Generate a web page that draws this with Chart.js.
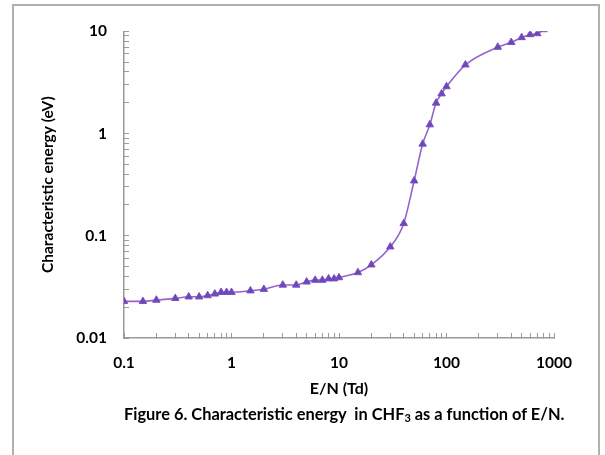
<!DOCTYPE html>
<html>
<head>
<meta charset="utf-8">
<script src="https://cdn.jsdelivr.net/npm/chart.js@4"></script>
<style>
  body { margin: 0; background: #fff; }
  #wrap { position: relative; width: 605px; height: 455px; overflow: hidden; }
  #frame { position: absolute; left: 12px; top: 4px; width: 588px; height: 480px; border: 2px solid #b0b0b0; box-sizing: border-box; }
  #chartCanvas { position: absolute; left: 0; top: 0; }
  #caption { position: absolute; left: 124px; width: 430px; top: 404px; text-align: center; white-space: nowrap;
    font-family: Lato, "Open Sans", sans-serif; font-weight: bold; font-size: 16.4px; color: #000; }
  #caption sub { font-size: 11px; vertical-align: -2px; }
</style>
</head>
<body>
<div id="wrap">
  <div id="frame"></div>
  <canvas id="chartCanvas" width="605" height="455"></canvas>
  <div id="caption">Figure 6. Characteristic energy &nbsp;in CHF<sub>3</sub> as a function of E/N.</div>
</div>
<script>
// E/N (Td)
var fieldValues = [0.1, 0.15, 0.2, 0.3, 0.4, 0.5, 0.6, 0.7, 0.8, 0.9, 1, 1.5, 2, 3, 4, 5, 6, 7, 8, 9, 10,
  15, 20, 30, 40, 50, 60, 70, 80, 90, 100, 150, 300, 400, 500, 600, 700, 800];
// characteristic energy (eV)
var energyValues = [0.0228, 0.0228, 0.0235, 0.0244, 0.0253, 0.0253, 0.026, 0.027, 0.028, 0.028, 0.028, 0.029, 0.030,
  0.033, 0.033, 0.0354, 0.0368, 0.0368, 0.038, 0.038, 0.039, 0.0437, 0.052, 0.078, 0.132, 0.345, 0.79, 1.22, 1.99,
  2.45, 2.88, 4.7, 7.0, 7.8, 8.7, 9.3, 9.5, 10.4];
var xTickLabels = ["0.1", "1", "10", "100", "1000"];
var yTickLabels = ["0.01", "0.1", "1", "10"];

function logTicks(labels) {
  var out = [];
  for (var i = 0; i < labels.length; i++) {
    var base = parseFloat(labels[i]);
    out.push({ value: base });
    if (i < labels.length - 1) {
      for (var m = 2; m <= 9; m++) out.push({ value: base * m });
    }
  }
  return out;
}
function majorLabel(labels) {
  return function (value) {
    for (var i = 0; i < labels.length; i++) {
      if (Math.abs(value / parseFloat(labels[i]) - 1) < 1e-6) return labels[i];
    }
    return "";
  };
}

var points = fieldValues.map(function (x, i) { return { x: x, y: energyValues[i] }; });
var tickFont = { family: "Lato, 'Open Sans', sans-serif", weight: "bold", size: 15.5 };
var titleFont = { family: "Lato, 'Open Sans', sans-serif", weight: "bold", size: 16 };

var ctx = document.getElementById("chartCanvas").getContext("2d");
var chart = new Chart(ctx, {
  type: "scatter",
  data: {
    datasets: [
      {
        data: points,
        showLine: true,
        cubicInterpolationMode: "monotone",
        borderColor: "#9464cc",
        borderWidth: 1.6,
        pointStyle: "triangle",
        pointRadius: 4.3,
        pointBackgroundColor: "#6a48b8",
        pointBorderColor: "#7b4fc0",
        pointBorderWidth: 1,
      },
    ],
  },
  options: {
    responsive: false,
    animation: false,
    layout: { padding: { left: 30, right: 51, top: 29, bottom: 50 } },
    plugins: { legend: { display: false }, tooltip: { enabled: false } },
    scales: {
      x: {
        type: "logarithmic",
        min: 0.1,
        max: 1000,
        afterBuildTicks: function (scale) { scale.ticks = logTicks(xTickLabels); },
        afterFit: function (scale) { scale.height = 67; },
        ticks: { autoSkip: false, maxRotation: 0, padding: 21, color: "#000", font: tickFont,
          callback: majorLabel(xTickLabels) },
        grid: { drawOnChartArea: false, tickLength: -5, color: "#9a9a9a" },
        border: { color: "#9a9a9a", width: 1.5 },
        title: { display: true, text: "E/N (Td)", color: "#000", font: titleFont, padding: { top: 0, bottom: 7 } },
      },
      y: {
        type: "logarithmic",
        min: 0.01,
        max: 10,
        afterBuildTicks: function (scale) { scale.ticks = logTicks(yTickLabels); },
        afterFit: function (scale) { scale.width = 94; },
        ticks: { autoSkip: false, padding: 22, color: "#000", font: tickFont,
          callback: majorLabel(yTickLabels) },
        grid: { drawOnChartArea: false, tickLength: -5, color: "#9a9a9a" },
        border: { color: "#9a9a9a", width: 1.5 },
        title: { display: true, text: "Characteristic energy (eV)", color: "#000", font: tickFont, padding: { top: 9, bottom: 0 } },
      },
    },
  },
});
</script>
</body>
</html>
